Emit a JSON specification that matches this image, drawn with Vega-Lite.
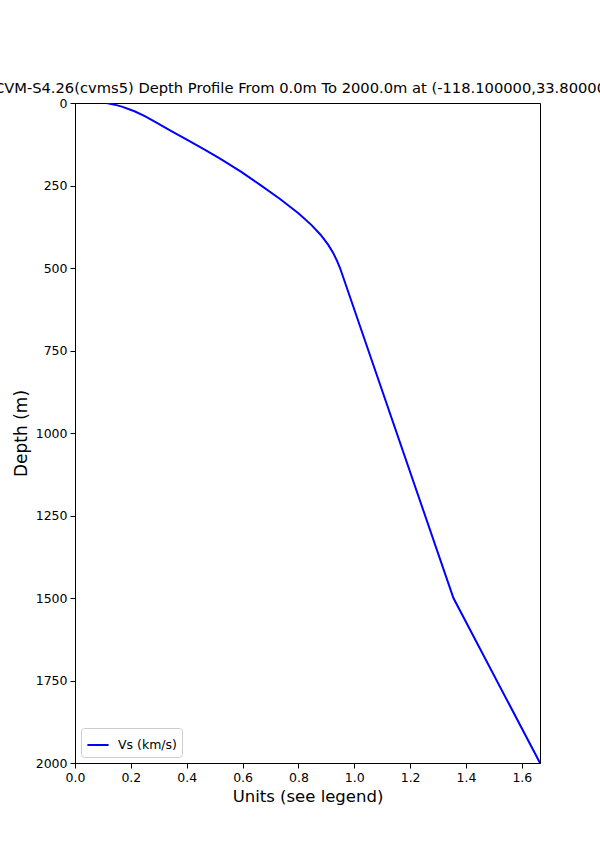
{
  "$schema": "https://vega.github.io/schema/vega-lite/v6.json",
  "width": 465,
  "height": 660,
  "autosize": {"type": "none"},
  "padding": {"left": 75, "top": 103, "right": 60, "bottom": 94},
  "background": "white",
  "title": {
    "text": "CVM-S4.26(cvms5) Depth Profile From 0.0m To 2000.0m at (-118.100000,33.800000)",
    "font": "DejaVu Sans",
    "fontSize": 14.7,
    "fontWeight": "normal",
    "color": "black",
    "anchor": "middle",
    "offset": 1
  },
  "config": {
    "view": {"stroke": "black", "strokeWidth": 1},
    "font": "DejaVu Sans"
  },
  "data": {
    "values": [
      {"depth": 0, "vs": 0.113, "series": "Vs (km/s)"},
      {"depth": 5, "vs": 0.142, "series": "Vs (km/s)"},
      {"depth": 11, "vs": 0.168, "series": "Vs (km/s)"},
      {"depth": 25, "vs": 0.213, "series": "Vs (km/s)"},
      {"depth": 40, "vs": 0.250, "series": "Vs (km/s)"},
      {"depth": 57, "vs": 0.287, "series": "Vs (km/s)"},
      {"depth": 85, "vs": 0.345, "series": "Vs (km/s)"},
      {"depth": 112, "vs": 0.402, "series": "Vs (km/s)"},
      {"depth": 140, "vs": 0.461, "series": "Vs (km/s)"},
      {"depth": 168, "vs": 0.518, "series": "Vs (km/s)"},
      {"depth": 208, "vs": 0.594, "series": "Vs (km/s)"},
      {"depth": 248, "vs": 0.663, "series": "Vs (km/s)"},
      {"depth": 290, "vs": 0.733, "series": "Vs (km/s)"},
      {"depth": 334, "vs": 0.800, "series": "Vs (km/s)"},
      {"depth": 370, "vs": 0.847, "series": "Vs (km/s)"},
      {"depth": 400, "vs": 0.880, "series": "Vs (km/s)"},
      {"depth": 430, "vs": 0.907, "series": "Vs (km/s)"},
      {"depth": 455, "vs": 0.925, "series": "Vs (km/s)"},
      {"depth": 480, "vs": 0.939, "series": "Vs (km/s)"},
      {"depth": 500, "vs": 0.949, "series": "Vs (km/s)"},
      {"depth": 1500, "vs": 1.355, "series": "Vs (km/s)"},
      {"depth": 2000, "vs": 1.665, "series": "Vs (km/s)"}
    ]
  },
  "mark": {"type": "line", "strokeWidth": 2, "clip": true},
  "encoding": {
    "x": {
      "field": "vs",
      "type": "quantitative",
      "scale": {"domain": [0, 1.665], "nice": false, "zero": false},
      "axis": {
        "title": "Units (see legend)",
        "titleFont": "DejaVu Sans",
        "titleFontSize": 16.5,
        "titleFontWeight": "normal",
        "titleColor": "black",
        "titlePadding": 5,
        "values": [0, 0.2, 0.4, 0.6, 0.8, 1.0, 1.2, 1.4, 1.6],
        "format": ".1f",
        "labelFontSize": 12.5,
        "labelColor": "black",
        "labelPadding": 3,
        "tickColor": "black",
        "tickSize": 5,
        "domainColor": "black",
        "grid": false,
        "labelFlush": false
      }
    },
    "y": {
      "field": "depth",
      "type": "quantitative",
      "scale": {"domain": [0, 2000], "reverse": true, "nice": false},
      "axis": {
        "title": "Depth (m)",
        "titleFont": "DejaVu Sans",
        "titleFontSize": 17,
        "titleFontWeight": "normal",
        "titleColor": "black",
        "titlePadding": 5,
        "values": [0, 250, 500, 750, 1000, 1250, 1500, 1750, 2000],
        "format": "d",
        "labelFontSize": 12.5,
        "labelColor": "black",
        "labelPadding": 3,
        "tickColor": "black",
        "tickSize": 5,
        "domainColor": "black",
        "grid": false,
        "labelFlush": false
      }
    },
    "color": {
      "field": "series",
      "type": "nominal",
      "scale": {"range": ["#0000ff"]},
      "legend": {
        "title": null,
        "orient": "bottom-left",
        "offset": 6,
        "symbolType": "stroke",
        "symbolSize": 450,
        "symbolStrokeWidth": 2,
        "labelFontSize": 12.5,
        "labelColor": "black",
        "labelOffset": 8,
        "fillColor": "white",
        "strokeColor": "#cccccc",
        "cornerRadius": 3,
        "padding": 5
      }
    },
    "order": {"field": "depth", "type": "quantitative"}
  }
}
